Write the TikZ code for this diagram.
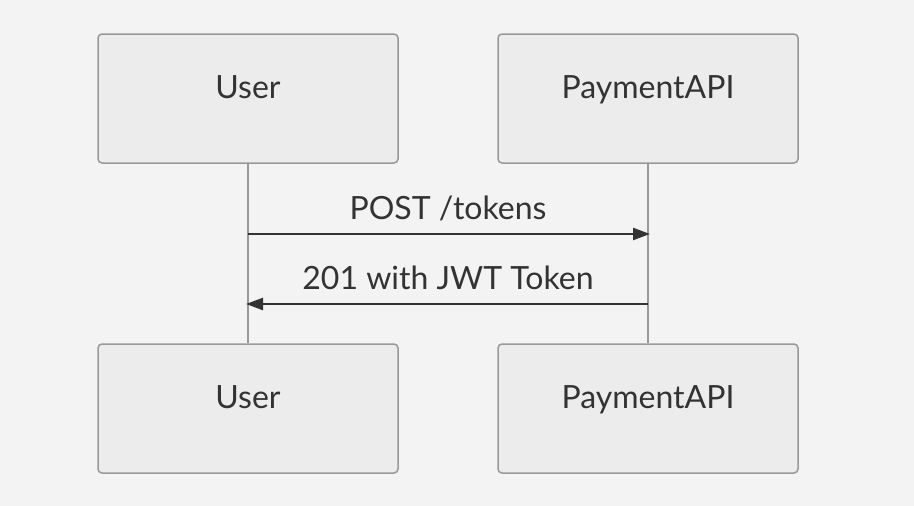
\documentclass[tikz,border=0pt]{standalone}
\usepackage{fontspec}
\setmainfont{Lato}
\usepackage{xcolor}
\usepackage{tikz}
\usetikzlibrary{arrows.meta}
\definecolor{bgcol}{HTML}{F3F3F3}
\definecolor{boxfill}{HTML}{ECECEC}
\definecolor{boxline}{HTML}{999999}
\definecolor{inkcol}{HTML}{333333}
\tikzset{
  actor/.style={draw=boxline, fill=boxfill, line width=1.5pt, rounded corners=4pt,
    minimum width=300pt, minimum height=129pt, inner sep=0pt,
    text height=23pt, text depth=23pt,
    font=\fontsize{32}{38}\selectfont, text=inkcol},
  lifeline/.style={draw=boxline, line width=1.2pt},
  msg/.style={draw=inkcol, line width=2.4pt, -{Triangle[length=17pt,width=12pt]}},
  msglabel/.style={font=\fontsize{32}{38}\selectfont, text=inkcol}
}
\begin{document}
\begin{tikzpicture}[x=1pt,y=-1pt]
\fill [bgcol] (0,0) rectangle (914,506);
\useasboundingbox (0,0) rectangle (914,506);
% participants
\node [actor] (usertop) at (248,98.5) {User};
\node [actor] (apitop) at (648,98.5) {PaymentAPI};
\node [actor] (userbot) at (248,408.5) {User};
\node [actor] (apibot) at (648,408.5) {PaymentAPI};
% lifelines
\draw [lifeline] (usertop.south) -- (userbot.north);
\draw [lifeline] (apitop.south) -- (apibot.north);
% messages
\coordinate (userreq) at (248,234);
\coordinate (apireq) at (650,234);
\coordinate (apiresp) at (648,304);
\coordinate (userresp) at (246,304);
\draw [msg] (userreq) -- (apireq);
\node [msglabel] at (448,208) {POST /tokens};
\draw [msg] (apiresp) -- (userresp);
\node [msglabel] at (448,278) {201 with JWT Token};
\end{tikzpicture}
\end{document}
